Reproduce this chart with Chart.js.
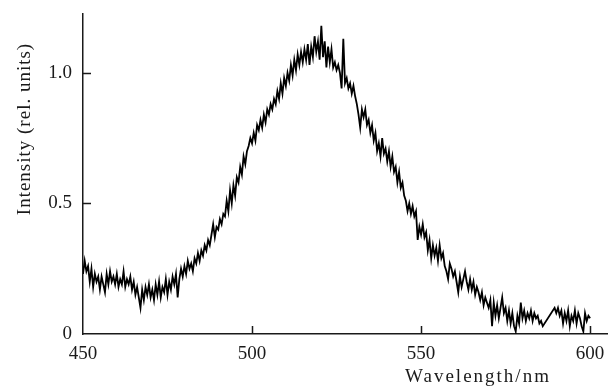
<!DOCTYPE html>
<html>
<head>
<meta charset="utf-8">
<title>Emission spectrum</title>
<script src="https://cdn.jsdelivr.net/npm/chart.js@4.4.0/dist/chart.umd.min.js"></script>
<style>
  html, body { margin: 0; padding: 0; background: #fff; }
  #wrap { width: 616px; height: 392px; }
</style>
</head>
<body>
<div id="wrap"><canvas id="spectrum" width="616" height="392"></canvas></div>
<script>
/* ==========================================================================
   Luminescence spectrum, 450-600 nm
   ========================================================================== */

// Sampling grid of the spectrum (nm)
const wavelengthStart = 450;
const wavelengthStep = 0.5;

// Intensity (rel. units), one value per 0.5 nm.
// null = no sample (the trace is a straight line there)
const intensity = [
  0.23, 0.28, 0.24, 0.26, 0.20, 0.25, 0.18, 0.23, 0.20, 0.22, // 450
  0.17, 0.22, 0.19, 0.16, 0.23, 0.19, 0.24, 0.20, 0.22, 0.19, // 455
  0.23, 0.18, 0.21, 0.19, 0.24, 0.18, 0.21, 0.19, 0.22, 0.17, // 460
  0.20, 0.15, 0.18, 0.14, 0.10, 0.17, 0.13, 0.18, 0.15, 0.19, // 465
  0.14, 0.17, 0.13, 0.19, 0.15, 0.20, 0.14, 0.18, 0.16, 0.21, // 470
  0.15, 0.20, 0.17, 0.22, 0.19, 0.23, 0.14, 0.21, 0.25, 0.22, // 475
  0.26, 0.23, 0.28, 0.25, 0.27, 0.24, 0.29, 0.27, 0.31, 0.28, // 480
  0.32, 0.30, 0.34, 0.32, 0.36, 0.34, 0.38, 0.42, 0.37, 0.41, // 485
  0.40, 0.44, 0.42, 0.46, 0.45, 0.51, 0.47, 0.55, 0.50, 0.57, // 490
  0.53, 0.60, 0.58, 0.64, 0.61, 0.68, 0.65, 0.70, 0.72, 0.75, // 495
  0.73, 0.77, 0.74, 0.80, 0.78, 0.82, 0.79, 0.84, 0.81, 0.86, // 500
  0.84, 0.88, 0.86, 0.90, 0.88, 0.93, 0.90, 0.96, 0.92, 0.98, // 505
  0.95, 1.00, 0.97, 1.03, 0.99, 1.05, 1.01, 1.07, 1.03, 1.08, // 510
  1.04, 1.09, 1.05, 1.11, 1.03, 1.10, 1.06, 1.14, 1.08, 1.12, // 515
  1.05, 1.18, 1.06, 1.12, 1.02, 1.10, 1.04, 1.09, 1.02, 1.04, // 520
  1.01, 1.03, 1.00, 0.94, 1.13, 0.96, 0.98, 0.94, 0.96, 0.92, // 525
  0.95, 0.91, 0.88, 0.84, 0.79, 0.86, 0.83, 0.86, 0.80, 0.82, // 530
  0.77, 0.80, 0.74, 0.77, 0.70, 0.73, 0.68, 0.75, 0.69, 0.71, // 535
  0.66, 0.70, 0.64, 0.68, 0.62, 0.64, 0.58, 0.62, 0.56, 0.58, // 540
  0.53, 0.51, 0.47, 0.50, 0.46, 0.49, 0.45, 0.47, 0.36, 0.41, // 545
  0.38, 0.42, 0.37, 0.39, 0.32, 0.36, 0.29, 0.34, 0.30, 0.33, // 550
  0.28, 0.34, 0.29, 0.31, 0.26, 0.24, 0.21, 0.27, 0.25, 0.22, // 555
  0.24, 0.20, 0.16, 0.22, 0.18, 0.21, 0.24, 0.20, 0.17, 0.21, // 560
  0.17, 0.20, 0.15, 0.18, 0.16, 0.13, 0.16, 0.11, 0.14, 0.12, // 565
  0.10, 0.13, 0.03, 0.12, 0.07, 0.11, 0.06, 0.10, 0.14, 0.08, // 570
  0.10, 0.05, 0.09, 0.04, 0.08, 0.03, 0.01, 0.07, 0.04, 0.12, // 575
  0.06, 0.09, 0.05, 0.08, 0.06, 0.09, 0.05, 0.08, 0.06, 0.07, // 580
  0.04, 0.05, 0.03, null, null, null, null, null, null, 0.10, // 585
  0.08, 0.10, 0.07, 0.09, 0.04, 0.08, 0.05, 0.09, 0.03, 0.07, // 590
  0.05, 0.09, 0.04, 0.08, 0.06, 0.03, 0.01, 0.08, 0.05, 0.07, // 595
  0.06                                                        // 600
];

// Axis ticks and labels
const xTicks = [450, 500, 550, 600];
const yTicks = [0, 0.5, 1.0];
const xTitle = 'Wavelength/nm';
const yTitle = 'Intensity (rel. units)';

const serif = '"Liberation Serif", "DejaVu Serif", serif';
const inkColor = '#1a1a1a';

// Inward tick marks plus the two axis titles
const axisDecor = {
  id: 'axisDecor',
  afterDraw(chart) {
    const { ctx, chartArea, scales } = chart;
    const tickLen = 8;
    ctx.save();
    ctx.strokeStyle = inkColor;
    ctx.lineWidth = 1.5;
    ctx.beginPath();
    yTicks.forEach(v => {
      if (v === 0) return;
      const py = Math.round(scales.y.getPixelForValue(v)) + 0.5;
      ctx.moveTo(chartArea.left, py);
      ctx.lineTo(chartArea.left + tickLen, py);
    });
    xTicks.forEach(v => {
      if (v === xTicks[0]) return;
      const px = Math.round(scales.x.getPixelForValue(v)) + 0.5;
      ctx.moveTo(px, chartArea.bottom);
      ctx.lineTo(px, chartArea.bottom - tickLen);
    });
    ctx.stroke();

    ctx.fillStyle = inkColor;
    ctx.font = '19px ' + serif;
    ctx.textAlign = 'center';
    ctx.textBaseline = 'middle';

    // x title sits right of centre, under the 550-600 span
    ctx.letterSpacing = '2px';
    ctx.fillText(xTitle, chartArea.left + 395, chartArea.bottom + 43);

    // y title, rotated, above the axis middle
    ctx.letterSpacing = '1px';
    ctx.translate(25, chartArea.top + 115);
    ctx.rotate(-Math.PI / 2);
    ctx.fillText(yTitle, 0, 0);
    ctx.restore();
  }
};

const ctx = document.getElementById('spectrum').getContext('2d');
new Chart(ctx, {
  type: 'line',
  data: {
    datasets: [{
      data: intensity.map((v, i) => ({ x: wavelengthStart + i * wavelengthStep, y: v })),
      borderColor: '#000',
      borderWidth: 1.8,
      pointRadius: 0,
      tension: 0,
      spanGaps: true,
      fill: false
    }]
  },
  options: {
    responsive: false,
    devicePixelRatio: 1,
    animation: false,
    layout: { padding: { top: 14, right: 9, left: 0, bottom: 0 } },
    plugins: { legend: { display: false }, tooltip: { enabled: false } },
    scales: {
      x: {
        type: 'linear',
        min: 450,
        max: 605,
        afterBuildTicks: s => { s.ticks = xTicks.map(v => ({ value: v })); },
        afterFit: s => { s.height = 58; },
        grid: { drawOnChartArea: false, drawTicks: false },
        border: { display: true, color: inkColor, width: 1.5 },
        ticks: { padding: 9, color: inkColor, font: { family: serif, size: 19 } }
      },
      y: {
        min: 0,
        max: 1.225,
        afterBuildTicks: s => { s.ticks = yTicks.map(v => ({ value: v })); },
        afterFit: s => { s.width = 83; s.paddingTop = 0; s.paddingBottom = 0; },
        grid: { drawOnChartArea: false, drawTicks: false },
        border: { display: true, color: inkColor, width: 1.5 },
        ticks: {
          padding: 11,
          color: inkColor,
          font: { family: serif, size: 19 },
          callback: v => (v === 0 ? '0' : v.toFixed(1))
        }
      }
    }
  },
  plugins: [axisDecor]
});
</script>
</body>
</html>
